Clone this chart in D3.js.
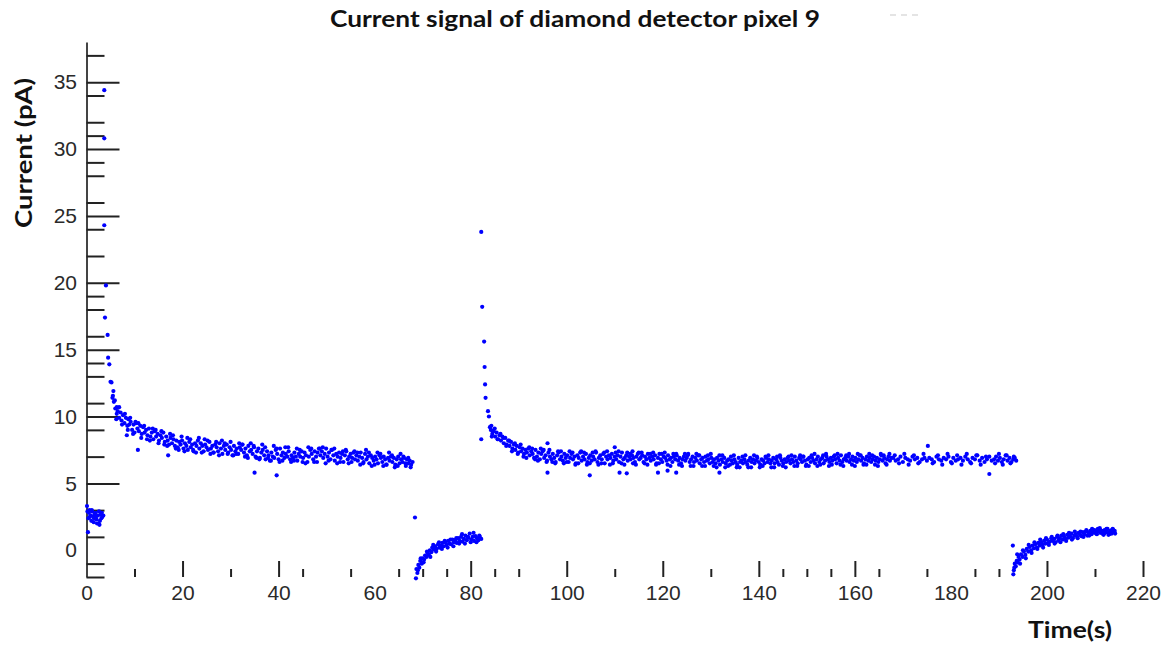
<!DOCTYPE html>
<html><head><meta charset="utf-8">
<script src="https://cdn.jsdelivr.net/npm/d3@7"></script>
<style>html,body{margin:0;padding:0;background:#fff;}svg{display:block}</style>
</head><body>
<svg id="chart" width="1176" height="647"></svg>
<script>
// ---------------- data ----------------
const titleText = "Current signal of diamond detector pixel 9";
const xLabelText = "Time(s)";
const yLabelText = "Current (pA)";

const xTickLabels = [0,20,40,60,80,100,120,140,160,180,200,220];
const xTickMajor  = [20,40,80,100,120,140,160,200,220];
const xTickMinor  = [10,30,45,55,65,70,75,85,90,110,130,145,150,155,165,175,185,190,210];
const yTickLabels = [0,5,10,15,20,25,30,35];
const yTickMajor  = [5,10,15,20,25,30,35];
const yTickMinor  = [-2,-1,1,3,7,9,11,13,14,16,18,19,22,24,26,28,29,31,32,34,37];

// before beam
const seg0T = [0.1,0.2,0.4,0.5,0.7,0.9,1.0,1.2,1.4,1.5,1.7,1.9,2.1,2.2,2.4,2.6,2.8,3.0,3.1,3.3,3.5,0.3,1.1,2.0,2.7,0.6,1.6,2.5,3.2];
const seg0V = [3.3,2.9,2.4,2.8,2.5,2.6,2.2,2.9,2.5,2.1,2.7,2.8,2.3,2.0,2.6,2.9,2.2,2.7,2.4,2.5,2.6,1.35,3.0,2.5,1.9,3.0,2.4,2.0,2.8];

// first spike
const spike1T = [3.7,3.7,3.7,4.05,3.85,4.4,4.5,4.75,5.0,5.2,5.5,5.4,5.6,5.7,5.9,6.3];
const spike1V = [34.4,30.8,24.3,19.8,17.4,16.1,14.4,13.9,12.6,12.55,11.55,11.4,11.9,11.1,11.2,10.7];

// first plateau
const seg1T = [
  6.0,6.3,6.5,6.8,7.1,7.3,7.6,7.9,8.2,8.5,8.7,8.9,
  9.2,9.5,9.8,10.0,10.3,10.6,10.9,11.2,11.5,11.8,12.1,12.4,
  12.7,13.0,13.3,13.6,13.9,14.2,14.5,14.8,15.1,15.4,15.7,16.0,
  16.3,16.6,16.9,17.2,17.5,17.8,18.1,18.4,18.7,19.0,19.3,19.6,
  19.9,20.2,20.5,20.8,21.1,21.4,21.7,22.0,22.3,22.6,22.9,23.2,
  23.5,23.8,24.1,24.4,24.7,25.0,25.3,25.6,25.9,26.2,26.5,26.8,
  27.1,27.4,27.7,28.0,28.3,28.6,28.9,29.2,29.5,29.8,30.1,30.4,
  30.7,31.0,31.3,31.6,31.9,32.2,32.5,32.8,33.1,33.4,33.7,34.0,
  34.3,34.6,34.9,35.2,35.5,35.8,36.1,36.4,36.7,37.0,37.3,37.6,
  37.9,38.2,38.5,38.8,39.1,39.4,39.7,40.0,40.3,40.6,40.9,41.2,
  41.5,41.8,42.1,42.4,42.7,43.0,43.3,43.6,43.9,44.2,44.5,44.8,
  45.1,45.4,45.7,46.0,46.3,46.6,46.9,47.2,47.5,47.8,48.1,48.4,
  48.7,49.0,49.3,49.6,49.9,50.2,50.5,50.8,51.1,51.4,51.7,52.0,
  52.3,52.6,52.9,53.2,53.5,53.8,54.1,54.4,54.7,55.0,55.3,55.6,
  55.9,56.2,56.5,56.8,57.1,57.4,57.7,58.0,58.3,58.6,58.9,59.2,
  59.5,59.8,60.1,60.4,60.7,61.0,61.3,61.6,61.9,62.2,62.5,62.8,
  63.1,63.4,63.7,64.0,64.3,64.6,64.9,65.2,65.5,65.8,66.1,66.4,
  66.7,67.0,67.3,67.6,67.9];
const seg1V = [
  10.6,10.2,10.4,9.9,10.3,9.7,10.1,9.5,9.9,9.3,9.8,9.4,
  9.6,9.0,9.4,8.8,9.5,9.1,8.9,9.3,8.7,9.2,8.8,9.0,
  8.6,9.1,8.5,8.8,8.3,8.9,8.5,8.7,8.2,8.6,8.4,8.8,
  8.1,8.5,8.2,7.9,8.4,8.0,8.3,7.8,8.2,7.7,8.1,7.9,
  8.2,7.6,8.0,7.8,7.5,8.1,7.7,7.9,7.4,8.0,7.8,8.2,
  7.6,8.0,7.8,7.4,7.9,7.7,7.5,8.1,7.6,7.8,7.3,7.9,
  7.7,7.4,8.0,7.6,7.2,7.8,7.5,7.9,7.3,7.7,7.5,7.1,
  7.8,7.4,7.6,7.2,7.7,7.5,7.9,7.3,7.6,7.1,7.8,7.4,
  7.5,7.2,7.7,7.0,7.4,7.6,6.9,7.3,7.5,7.1,6.8,7.4,
  7.1,6.7,7.3,7.0,6.9,7.5,7.2,6.8,7.6,7.1,7.3,6.9,
  7.2,7.0,7.4,6.8,7.1,6.9,7.3,7.0,6.7,7.2,7.0,7.4,
  6.9,7.3,7.1,6.6,7.0,7.5,7.2,6.8,7.4,7.0,7.3,7.6,
  7.1,7.4,6.9,7.2,7.6,7.0,7.3,6.8,7.5,7.1,6.7,7.2,
  7.0,7.3,6.9,7.2,6.6,7.1,7.4,6.8,7.0,7.2,6.9,7.3,
  6.8,7.1,6.7,7.0,7.3,6.9,6.6,7.2,6.8,7.0,6.5,7.1,
  6.9,6.7,7.0,6.8,6.5,7.1,6.9,6.6,7.0,6.8,6.4,6.9,
  6.7,7.0,6.6,6.9,6.4,6.8,7.0,6.5,6.8,6.6,6.9,6.5,
  6.8,6.5,6.7,6.4,6.6];
// first plateau, second set of readings
const seg1bT = [
  6.2,6.8,7.4,8.0,8.6,9.1,9.7,10.2,10.8,11.4,
  12.0,12.6,13.2,13.8,14.4,15.0,15.6,16.2,16.8,17.4,
  18.0,18.6,19.2,19.8,20.4,21.0,21.6,22.2,22.8,23.4,
  24.0,24.6,25.2,25.8,26.4,27.0,27.6,28.2,28.8,29.4,
  30.0,30.6,31.2,31.8,32.4,33.0,33.6,34.2,34.8,35.4,
  36.0,36.6,37.2,37.8,38.4,39.0,39.6,40.2,40.8,41.4,
  42.0,42.6,43.2,43.8,44.4,45.0,45.6,46.2,46.8,47.4,
  48.0,48.6,49.2,49.8,50.4,51.0,51.6,52.2,52.8,53.4,
  54.0,54.6,55.2,55.8,56.4,57.0,57.6,58.2,58.8,59.4,
  60.0,60.6,61.2,61.8,62.4,63.0,63.6,64.2,64.8,65.4,
  66.0,66.5,67.0,67.5];
const seg1bV = [
  9.8,10.7,9.4,10.2,9.0,9.9,8.7,9.6,9.5,8.4,
  9.3,8.3,8.2,9.1,9.0,8.0,8.9,7.9,7.8,8.7,
  8.6,7.6,7.5,8.5,7.4,8.4,8.3,7.5,7.3,8.4,
  7.3,8.3,8.2,7.2,7.3,8.1,7.1,8.2,8.0,7.2,
  8.1,7.1,7.2,8.0,7.9,7.0,6.9,8.0,7.8,6.9,
  6.8,7.9,7.7,6.9,6.7,7.8,7.6,6.6,6.7,7.7,
  7.7,6.6,6.7,7.6,7.5,6.6,6.5,7.7,7.6,6.6,
  6.6,7.6,7.7,6.5,6.7,7.5,7.6,6.5,6.6,7.4,
  7.5,6.5,6.6,7.4,7.3,6.4,6.5,7.5,7.3,6.3,
  6.4,7.3,7.2,6.3,6.4,7.3,7.1,6.2,6.3,7.2,
  7.0,6.3,6.9,6.2];

// first beam-off recovery
const seg2T = [68.6,68.7,68.9,69.1,69.3,69.5,69.8,70.0,70.3,70.5,70.8,71.0,71.3,71.5,71.8,72.0,72.3,72.6,72.9,73.2,
  73.5,73.8,74.1,74.4,74.7,75.0,75.3,75.6,75.9,76.2,76.5,76.8,77.1,77.4,77.7,78.0,78.3,78.6,78.9,79.2,
  79.5,79.8,80.1,80.4,80.7,81.0,81.3,81.6,81.9,82.2,
  69.0,69.6,70.2,70.9,71.6,72.2,72.8,73.4,74.0,74.6,75.2,75.8,76.4,77.0,77.6,78.2,78.8,79.4,80.0,80.6,81.2,81.8];
const seg2V = [-2.1,-1.4,-1.7,-1.1,-1.3,-0.8,-1.0,-0.6,-0.7,-0.4,-0.5,-0.2,-0.35,0.0,-0.15,0.2,0.05,0.3,0.1,0.45,
  0.2,0.35,0.55,0.3,0.6,0.4,0.7,0.5,0.45,0.8,0.6,0.75,0.55,0.9,0.7,1.0,0.65,0.85,1.1,0.75,
  0.95,1.25,0.8,1.0,0.7,1.05,0.9,0.75,1.0,0.85,
  -1.5,-0.6,-0.9,-0.1,-0.5,0.4,-0.1,0.6,0.1,0.7,0.2,0.8,0.3,0.9,0.5,1.2,0.5,1.0,0.6,1.3,0.6,1.1];

// second spike
const spike2T = [82.2,82.4,82.8,82.9,83.0,83.1,83.6,83.8,84.0,82.2,84.3,84.6];
const spike2V = [23.8,18.2,15.6,13.7,12.4,11.4,10.4,10.0,9.2,8.3,9.3,8.9];

// second plateau
const seg3T = [
  84.2,84.5,84.8,85.1,85.4,85.7,86.0,86.3,86.6,86.9,87.2,87.5,87.8,
  88.1,88.4,88.7,89.0,89.3,89.6,89.9,90.2,90.5,90.8,91.1,91.4,91.7,92.0,
  92.3,92.6,92.9,93.2,93.5,93.8,94.1,94.4,94.7,95.0,95.3,95.6,95.9,96.2,
  96.5,96.8,97.1,97.4,97.7,98.0,98.3,98.6,98.9,99.2,99.5,99.8,100.1,100.4,
  100.7,101.0,101.3,101.6,101.9,102.2,102.5,102.8,103.1,103.4,103.7,104.0,104.3,104.6,
  104.9,105.2,105.5,105.8,106.1,106.4,106.7,107.0,107.3,107.6,107.9,108.2,108.5,108.8,
  109.1,109.4,109.7,110.0,110.3,110.6,110.9,111.2,111.5,111.8,112.1,112.4,112.7,113.0,
  113.3,113.6,113.9,114.2,114.5,114.8,115.1,115.4,115.7,116.0,116.3,116.6,116.9,117.2,
  117.5,117.8,118.1,118.4,118.7,119.0,119.3,119.6,119.9,120.2,120.5,120.8,121.1,121.4,
  121.7,122.0,122.3,122.6,122.9,123.2,123.5,123.8,124.1,124.4,124.7,125.0,125.3,125.6,
  125.9,126.2,126.5,126.8,127.1,127.4,127.7,128.0,128.3,128.6,128.9,129.2,129.5,129.8,
  130.1,130.4,130.7,131.0,131.3,131.6,131.9,132.2,132.5,132.8,133.1,133.4,133.7,134.0,
  134.3,134.6,134.9,135.2,135.5,135.8,136.1,136.4,136.7,137.0,137.3,137.6,137.9,138.2,
  138.5,138.8,139.1,139.4,139.7,140.0,140.3,140.6,140.9,141.2,141.5,141.8,142.1,142.4,
  142.7,143.0,143.3,143.6,143.9,144.2,144.5,144.8,145.1,145.4,145.7,146.0,146.3,146.6,
  146.9,147.2,147.5,147.8,148.1,148.4,148.7,149.0,149.3,149.6,149.9,150.2,150.5,150.8,
  151.1,151.4,151.7,152.0,152.3,152.6,152.9,153.2,153.5,153.8,154.1,154.4,154.7,155.0,
  155.3,155.6,155.9,156.2,156.5,156.8,157.1,157.4,157.7,158.0,158.3,158.6,158.9,159.2,
  159.5,159.8,160.1,160.4,160.7,161.0,161.3,161.6,161.9,162.2,162.5,162.8,163.1,163.4,
  163.7,164.0,164.3,164.6,164.9,165.2,165.5,165.8,166.1,166.4,166.7,167.0,167.3,167.6,
  168.0,168.5,169.0,169.5,170.0,170.5,171.0,171.5,172.0,172.5,173.0,173.5,174.0,174.5,
  175.0,175.5,176.0,176.5,177.0,177.5,178.0,178.5,179.0,179.5,180.0,180.5,181.0,181.5,
  182.0,182.5,183.0,183.5,184.0,184.5,185.0,185.5,186.0,186.5,187.0,187.5,188.0,188.5,
  189.0,189.4,189.8,190.2,190.6,191.0,191.4,191.8,192.2,192.6,193.0,193.3,193.6];
const seg3V = [
  9.0,8.7,8.9,8.5,8.8,8.3,8.6,8.2,8.5,8.0,8.4,7.9,8.2,
  7.8,8.1,7.6,7.9,7.5,7.8,7.3,7.7,7.4,7.6,7.2,7.5,7.3,7.6,
  7.1,7.4,7.2,6.9,7.5,7.0,7.3,6.8,7.2,7.4,6.9,7.1,6.7,7.3,
  7.0,6.8,7.2,6.9,6.6,7.1,7.3,6.8,7.0,6.7,7.2,6.9,7.1,6.6,
  6.9,7.2,6.8,7.0,6.5,7.1,6.9,7.3,6.7,7.0,6.8,7.2,6.6,6.9,
  7.1,6.7,7.0,6.8,7.3,6.6,6.9,7.1,6.8,7.2,6.5,7.0,6.8,7.1,
  6.9,7.2,6.7,7.0,6.8,7.1,6.6,7.0,7.3,6.8,6.9,7.1,6.7,7.0,
  6.8,7.1,6.9,6.6,7.0,7.2,6.8,6.9,7.1,6.6,7.0,6.8,7.2,6.9,
  6.7,7.0,6.8,7.1,6.5,6.9,7.2,6.8,6.6,7.0,6.9,6.7,7.1,6.8,
  6.9,6.6,7.0,6.8,7.1,6.7,6.9,6.5,6.8,7.0,6.7,6.9,7.2,6.6,
  6.8,7.0,6.6,6.9,6.7,7.1,6.5,6.8,6.9,6.6,7.0,6.7,6.8,6.5,
  6.9,6.6,6.8,6.5,6.9,6.7,6.4,6.8,6.6,6.9,6.5,6.7,6.8,6.4,
  6.7,6.5,6.8,6.6,6.4,6.9,6.6,6.7,6.5,6.8,6.6,6.4,6.7,6.9,
  6.6,6.8,6.5,6.7,6.9,6.6,6.4,6.8,6.7,6.5,6.9,6.6,6.8,6.5,
  6.7,6.9,6.5,6.8,6.6,6.4,6.9,6.7,6.5,6.8,6.6,6.9,6.7,6.5,
  6.8,6.6,7.0,6.7,6.5,6.9,6.8,6.6,7.0,6.7,6.4,6.8,6.9,6.6,
  6.9,6.7,6.5,6.8,7.0,6.6,6.8,6.9,6.5,6.7,7.0,6.8,6.6,6.9,
  6.7,7.0,6.8,6.5,6.9,6.7,7.1,6.6,6.8,6.9,6.7,7.0,6.6,6.8,
  7.0,6.7,6.9,6.6,6.8,7.1,6.7,6.9,6.5,6.8,7.0,6.7,6.9,6.6,
  6.8,7.0,6.7,6.9,6.6,6.8,7.1,6.7,6.9,6.5,6.8,7.0,6.7,6.9,
  6.9,6.7,6.8,7.0,6.6,6.9,6.8,6.7,7.0,6.8,6.9,6.6,6.8,6.9,
  6.7,6.9,6.8,6.6,7.0,6.8,6.7,6.9,6.8,7.0,6.6,6.9,6.7,6.8,
  6.9,6.7,7.0,6.8,6.6,6.9,6.8,7.1,6.7,6.9,6.6,6.8,7.0,6.7,
  6.8,7.0,6.7,6.9,6.6,6.8,7.1,6.7,6.9,6.6,6.8,6.9,6.7];
// second plateau, second set of readings
const seg3bT = [
  84.4,85.0,85.6,86.2,86.8,87.4,88.0,88.6,89.2,89.8,
  90.4,91.0,91.6,92.2,92.8,93.4,94.0,94.6,95.2,95.8,
  96.4,97.0,97.6,98.2,98.8,99.4,100.0,100.6,101.2,101.8,
  102.4,103.0,103.6,104.2,104.8,105.4,106.0,106.6,107.2,107.8,
  108.4,109.0,109.6,110.2,110.8,111.4,112.0,112.6,113.2,113.8,
  114.4,115.0,115.6,116.2,116.8,117.4,118.0,118.6,119.2,119.8,
  120.4,121.0,121.6,122.2,122.8,123.4,124.0,124.6,125.2,125.8,
  126.4,127.0,127.6,128.2,128.8,129.4,130.0,130.6,131.2,131.8,
  132.4,133.0,133.6,134.2,134.8,135.4,136.0,136.6,137.2,137.8,
  138.4,139.0,139.6,140.2,140.8,141.4,142.0,142.6,143.2,143.8,
  144.4,145.0,145.6,146.2,146.8,147.4,148.0,148.6,149.2,149.8,
  150.4,151.0,151.6,152.2,152.8,153.4,154.0,154.6,155.2,155.8,
  156.4,157.0,157.6,158.2,158.8,159.4,160.0,160.6,161.2,161.8,
  162.4,163.0,163.6,164.2,164.8,165.4,166.0,166.6,167.2,
  168.3,169.2,170.3,171.2,172.3,173.2,174.3,176.2,177.3,178.2,
  179.3,180.2,181.3,182.2,183.3,184.2,185.3,186.2,187.3,189.2,
  190.0,190.8,191.6,192.4,193.1];
const seg3bV = [
  8.5,9.1,8.3,8.7,8.4,7.8,8.2,7.4,8.0,7.2,
  7.9,7.0,6.9,7.7,7.6,6.8,6.7,7.6,7.5,6.6,
  7.5,6.6,6.5,7.4,7.4,6.5,6.6,7.4,7.3,6.4,
  6.5,7.4,7.3,6.4,6.5,7.3,7.4,6.4,6.5,7.3,
  7.4,6.4,6.5,7.3,7.4,6.5,6.4,7.3,7.2,6.5,
  6.4,7.3,7.3,6.5,6.4,7.2,7.3,6.4,6.5,7.2,
  7.3,6.4,6.3,7.2,7.2,6.4,6.3,7.2,7.1,6.3,
  6.3,7.2,7.1,6.3,6.3,7.1,7.2,6.3,6.2,7.1,
  7.1,6.2,6.3,7.0,7.1,6.2,6.2,7.0,7.1,6.2,
  6.2,7.1,7.0,6.2,6.3,7.0,7.1,6.2,6.2,7.0,
  7.1,6.3,6.2,7.0,7.1,6.3,6.3,7.1,7.0,6.3,
  6.3,7.1,7.2,6.3,6.4,7.1,7.2,6.3,6.4,7.1,
  7.2,6.4,6.3,7.1,7.2,6.4,6.3,7.2,7.1,6.4,
  6.4,7.2,7.1,6.4,6.3,7.2,7.1,6.4,7.2,
  7.1,6.5,7.2,6.4,7.1,6.5,7.2,6.5,7.1,6.4,
  7.2,6.5,7.1,6.4,7.2,6.5,7.1,6.4,7.0,6.5,
  7.2,6.4,7.1,6.5,7.0];

// second beam-off recovery
const seg4T = [192.9,193.0,193.1,193.3,193.5,193.7,193.9,194.1,194.3,194.6,194.9,195.2,195.5,195.8,196.1,196.4,196.7,197.0,197.3,197.6,
  197.9,198.2,198.5,198.8,199.1,199.4,199.7,200.0,200.3,200.6,200.9,201.2,201.5,201.8,202.1,202.4,202.7,203.0,203.3,203.6,
  203.9,204.2,204.5,204.8,205.1,205.4,205.7,206.0,206.3,206.6,206.9,207.2,207.5,207.8,208.1,208.4,208.7,209.0,209.3,209.6,
  209.9,210.2,210.5,210.8,211.1,211.4,211.7,212.0,212.3,212.6,212.9,213.2,213.5,213.8,214.0,
  210.0,210.6,211.3,211.9,212.5,213.1,213.7,214.1,212.8,211.6,
  193.2,193.8,194.4,195.0,195.6,196.2,196.8,197.4,198.0,198.6,199.2,199.8,200.4,201.0,201.6,202.2,202.8,203.4,204.0,204.6,
  205.2,205.8,206.4,207.0,207.6,208.2,208.8,209.4,210.4,211.0,211.8,212.4,213.0,213.6,214.2];
const seg4V = [0.35,-1.8,-1.5,-1.0,-1.2,-0.8,-0.9,-0.5,-0.7,-0.3,-0.5,-0.1,-0.35,0.1,-0.1,0.25,0.0,0.35,0.15,0.45,
  0.2,0.55,0.35,0.6,0.4,0.7,0.5,0.8,0.55,0.65,0.9,0.7,0.85,0.6,1.0,0.75,0.9,1.1,0.8,1.0,
  0.85,1.15,0.95,1.05,1.25,0.9,1.1,1.2,1.0,1.3,1.15,1.05,1.35,1.2,1.4,1.1,1.3,1.45,1.2,1.35,
  1.5,1.25,1.4,1.55,1.3,1.45,1.2,1.5,1.35,1.6,1.3,1.45,1.25,1.5,1.4,
  1.35,1.6,1.45,1.25,1.55,1.3,1.6,1.45,1.15,1.4,
  -1.3,-0.3,-1.0,0.0,-0.6,0.4,-0.2,0.6,0.1,0.8,0.2,0.9,0.4,1.0,0.5,1.1,0.6,1.2,0.7,1.3,
  0.8,1.4,0.9,1.4,1.0,1.5,1.1,1.6,1.2,1.65,1.15,1.6,1.2,1.55,1.25];

// isolated points
const strayT = [8.4,10.7,17.0,35.0,39.6,68.4,96.0,96.0,104.8,111.0,112.5,119.0,121.0,122.8,131.8,110.0,113.7,175.2,188.0];
const strayV = [8.6,7.5,7.1,5.8,5.6,2.45,8.0,5.8,5.6,5.8,5.75,5.8,5.95,5.8,5.8,7.7,7.4,7.8,5.7];

// ---------------- drawing ----------------
const svg = d3.select('#chart');
const x = d3.scaleLinear().domain([0, 220]).range([86.5, 1143]);
const y = d3.scaleLinear().domain([-2, 38]).range([577, 42]);

const tickFont = "'Liberation Sans', Arial, sans-serif";
const boldFont = "Lato, 'Open Sans', sans-serif";

// y axis line + ticks
const gy = svg.append('g').attr('transform', `translate(${x(0)},0)`);
gy.call(d3.axisRight(y).tickValues(yTickMajor).tickSize(33).tickSizeOuter(0).tickFormat(''));
gy.call(g => g.select('.domain').attr('stroke', '#444').attr('stroke-width', 2));
gy.selectAll('.tick line').attr('stroke', '#222').attr('stroke-width', 2);
const gyMinor = svg.append('g').attr('transform', `translate(${x(0)},0)`)
  .call(d3.axisRight(y).tickValues(yTickMinor).tickSize(18).tickFormat(''));
gyMinor.select('.domain').remove();
gyMinor.selectAll('.tick line').attr('stroke', '#222').attr('stroke-width', 2);
const gyLab = svg.append('g').attr('transform', `translate(${x(0)},0)`)
  .call(d3.axisLeft(y).tickValues(yTickLabels).tickSize(0).tickPadding(9.5).tickFormat(d3.format('d')));
gyLab.select('.domain').remove();
gyLab.selectAll('text').attr('font-family', tickFont).attr('font-size', 21).attr('fill', '#2a2a2a');

// x axis ticks (no axis line)
const gx = svg.append('g').attr('transform', `translate(0,${y(-2)})`)
  .call(d3.axisTop(x).tickValues(xTickMajor).tickSize(16).tickFormat(''));
gx.select('.domain').remove();
gx.selectAll('.tick line').attr('stroke', '#222').attr('stroke-width', 2);
const gxMinor = svg.append('g').attr('transform', `translate(0,${y(-2)})`)
  .call(d3.axisTop(x).tickValues(xTickMinor).tickSize(8).tickFormat(''));
gxMinor.select('.domain').remove();
gxMinor.selectAll('.tick line').attr('stroke', '#222').attr('stroke-width', 2);
const gxLab = svg.append('g').attr('transform', `translate(0,${y(-2)})`)
  .call(d3.axisBottom(x).tickValues(xTickLabels).tickSize(0).tickPadding(8.5).tickFormat(d3.format('d')));
gxLab.select('.domain').remove();
gxLab.selectAll('text').attr('font-family', tickFont).attr('font-size', 21).attr('fill', '#2a2a2a');

// points
const series = [[seg0T,seg0V],[spike1T,spike1V],[seg1T,seg1V],[seg1bT,seg1bV],[seg2T,seg2V],[spike2T,spike2V],
                [seg3T,seg3V],[seg3bT,seg3bV],[seg4T,seg4V],[strayT,strayV]];
const points = series.flatMap(([t, v]) => d3.zip(t, v));
svg.append('g').selectAll('circle').data(points).join('circle')
  .attr('cx', d => x(d[0])).attr('cy', d => y(d[1])).attr('r', 2.1).attr('fill', '#0000ff');

// title and axis titles
svg.append('text').attr('x', 330).attr('y', 27)
  .attr('textLength', 490).attr('lengthAdjust', 'spacingAndGlyphs')
  .attr('font-family', boldFont).attr('font-weight', 700).attr('font-size', 23).attr('fill', '#111')
  .text(titleText);
svg.append('line').attr('x1', 890).attr('x2', 922).attr('y1', 15).attr('y2', 15)
  .attr('stroke', '#e4e4e4').attr('stroke-width', 2).attr('stroke-dasharray', '6,5');
svg.append('text').attr('transform', 'translate(31.5,228) rotate(-90)')
  .attr('textLength', 150).attr('lengthAdjust', 'spacingAndGlyphs')
  .attr('font-family', boldFont).attr('font-weight', 700).attr('font-size', 22).attr('fill', '#111')
  .text(yLabelText);
svg.append('text').attr('x', 1028).attr('y', 638)
  .attr('textLength', 84).attr('lengthAdjust', 'spacingAndGlyphs')
  .attr('font-family', boldFont).attr('font-weight', 700).attr('font-size', 22).attr('fill', '#111')
  .text(xLabelText);
</script>
</body></html>
